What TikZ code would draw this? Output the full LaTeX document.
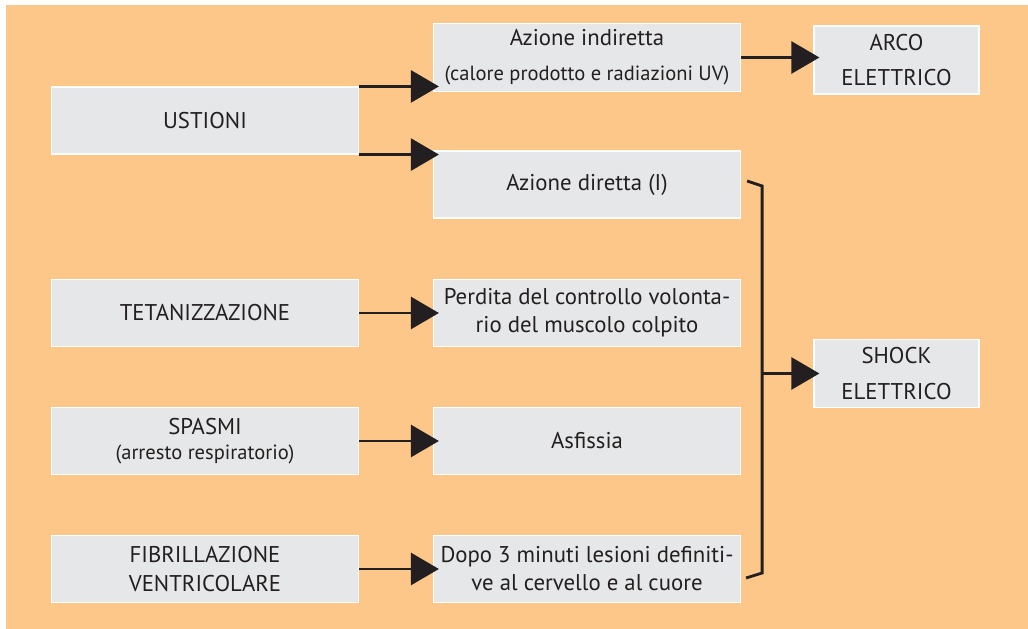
\documentclass[tikz,border=0pt]{standalone}
\usepackage{fontspec}
\setmainfont{PT Sans}
\usetikzlibrary{arrows.meta, positioning, calc}
\definecolor{sfondo}{RGB}{252,199,137}
\definecolor{grigio}{RGB}{230,231,232}
\definecolor{inchiostro}{RGB}{35,31,32}
\tikzset{
  box/.style={rectangle, draw=white, line width=0.8pt, fill=grigio, text=inchiostro, minimum width=7.675cm, minimum height=1.675cm, inner sep=0pt, align=center, font=\fontsize{16.2}{20}\selectfont},
  smallbox/.style={box, minimum width=4.125cm, minimum height=1.7cm, font=\fontsize{16.2}{25.5}\selectfont},
  arrow/.style={-{Triangle[length=0.7cm, width=0.8cm]}, line width=2pt, draw=inchiostro, shorten >=-0.15cm},
  bracket/.style={line width=2pt, draw=inchiostro},
}
\newcommand{\nota}[1]{{\fontsize{14.6}{15}\selectfont #1}}

\begin{document}
\begin{tikzpicture}[x=0.025cm, y=-0.025cm]
  \fill[white] (0,0) rectangle (1028,629);
  \fill[sfondo] (6,5) rectangle (1028,629);
  \node[box] (ustioni) at (205,120.5) {USTIONI};
  \node[box, minimum height=1.7cm] (indir) at (587,57.5) {Azione indiretta\\[5pt]\nota{(calore prodotto e radiazioni UV)}};
  \node[smallbox] (arco) at (896.5,60) {ARCO\\ELETTRICO};
  \node[box] (diretta) at (587,184.5) {Azione diretta (I)};
  \node[box] (tetan) at (205,313) {TETANIZZAZIONE};
  \node[box] (perdita) at (587,313) {Perdita del controllo volonta-\\rio del muscolo colpito};
  \node[smallbox] (shock) at (896.5,373.5) {SHOCK\\ELETTRICO};
  \node[box] (spasmi) at (205,441) {SPASMI\\[-2pt]\nota{(arresto respiratorio)}};
  \node[box] (asfissia) at (587,441) {Asfissia};
  \node[box] (fibr) at (205,569) {FIBRILLAZIONE\\VENTRICOLARE};
  \node[box] (dopo) at (587,569) {Dopo 3 minuti lesioni definiti-\\ve al cervello e al cuore};
  \draw[arrow] (ustioni.north east) -- (ustioni.north east -| indir.west);
  \draw[arrow] (ustioni.south east) -- (ustioni.south east -| diretta.west);
  \draw[arrow] (indir.east) -- (indir.east -| arco.west);
  \draw[arrow] (tetan) -- (perdita);
  \draw[arrow] (spasmi) -- (asfissia);
  \draw[arrow] (fibr) -- (dopo);
  \coordinate (brtop) at ($(diretta.east)+(21,1.5)$);
  \coordinate (brbot) at ($(dopo.east)+(21,4)$);
  \draw[bracket] ($(diretta.east)+(6,-3.5)$) -- (brtop) -- (brbot) -- ($(dopo.east)+(5,9)$);
  \draw[arrow] (brtop |- shock.west) -- (shock.west);
\end{tikzpicture}
\end{document}
